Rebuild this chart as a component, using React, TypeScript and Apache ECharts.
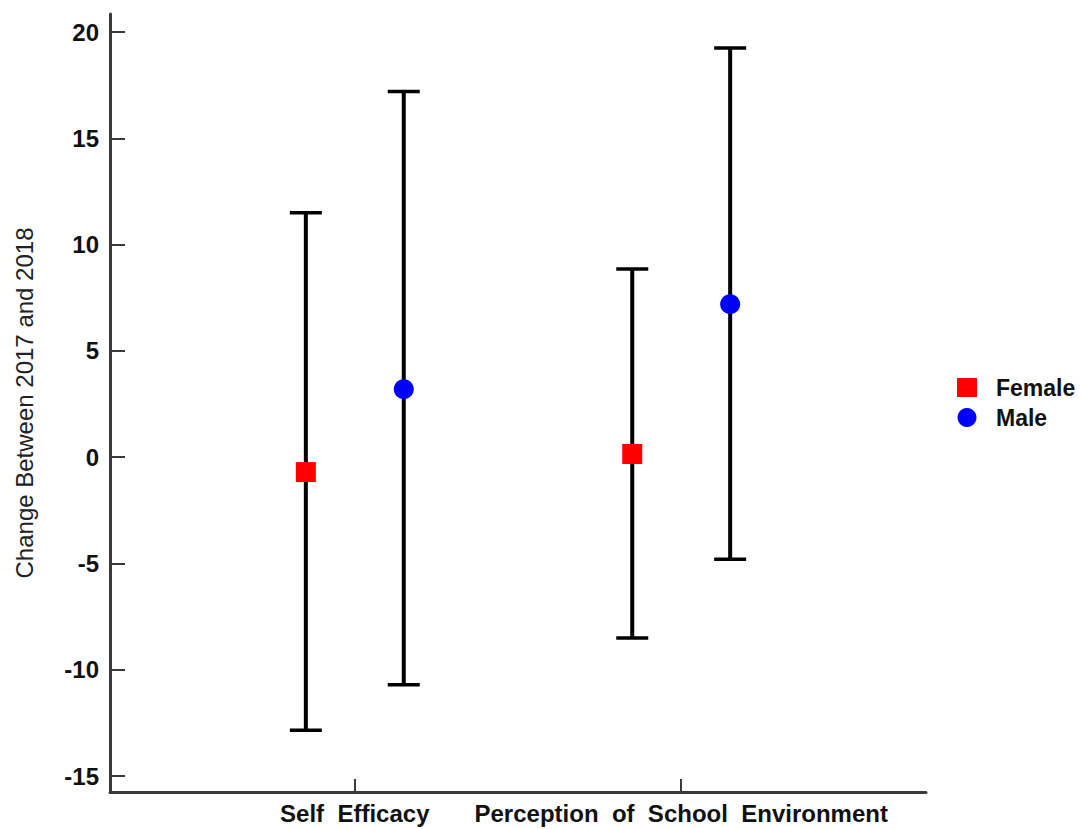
import React, { useEffect, useRef } from "react";
import * as echarts from "echarts";

// Groups on the x axis (placed at positions 1 and 2)
const categories = ["Self  Efficacy", "Perception  of  School  Environment"];
const seriesNames = ["Female", "Male"];

// Mean change and interval bounds per group
const femaleMean = [-0.7, 0.15];
const femaleLow = [-12.85, -8.5];
const femaleHigh = [11.5, 8.85];

const maleMean = [3.2, 7.2];
const maleLow = [-10.7, -4.8];
const maleHigh = [17.2, 19.25];

const yTicks = [-15, -10, -5, 0, 5, 10, 15, 20];

const OFFSET = 0.15;
const FONT = "'Liberation Sans', Arial, sans-serif";

export default function App() {
  const ref = useRef<HTMLDivElement>(null);

  useEffect(() => {
    if (!ref.current) return;
    const chart = echarts.init(ref.current, undefined, { renderer: "svg" });

    const catPos = categories.map((_, i) => i + 1);
    const femaleX = catPos.map((p) => p - OFFSET);
    const maleX = catPos.map((p) => p + OFFSET);

    const barData = [
      ...femaleX.map((x, i) => [x, femaleLow[i], femaleHigh[i]]),
      ...maleX.map((x, i) => [x, maleLow[i], maleHigh[i]]),
    ];

    const axisColor = "#3a3a3a";

    chart.setOption({
      animation: false,
      backgroundColor: "#ffffff",
      grid: { left: 110, top: 14, right: 156, bottom: 37, containLabel: false },
      legend: {
        orient: "vertical",
        left: 952,
        top: 371,
        itemWidth: 20,
        itemHeight: 19,
        itemGap: 7,
        data: seriesNames,
        textStyle: {
          fontFamily: FONT,
          fontWeight: "bold",
          fontSize: 23,
          color: "#111",
          padding: [0, 0, 0, 14],
        },
      },
      xAxis: {
        type: "value",
        min: 0.25,
        max: 2.75,
        splitLine: { show: false },
        axisLine: { onZero: false, lineStyle: { color: axisColor, width: 3 } },
        axisTick: {
          customValues: catPos,
          inside: true,
          length: 13,
          lineStyle: { color: axisColor, width: 2 },
        },
        axisLabel: {
          customValues: catPos,
          formatter: (v: number) => categories[Math.round(v) - 1] ?? "",
          fontFamily: FONT,
          fontWeight: "bold",
          fontSize: 24,
          color: "#111",
          margin: 9,
        },
      },
      yAxis: {
        type: "value",
        min: -15.75,
        max: 20.85,
        name: "Change Between 2017 and 2018",
        nameLocation: "middle",
        nameGap: 74,
        nameTextStyle: { fontFamily: FONT, fontSize: 24, color: "#222" },
        splitLine: { show: false },
        axisLine: { show: true, onZero: false, lineStyle: { color: axisColor, width: 3 } },
        axisTick: {
          show: true,
          customValues: yTicks,
          inside: true,
          length: 15,
          lineStyle: { color: axisColor, width: 2 },
        },
        axisLabel: {
          customValues: yTicks,
          fontFamily: FONT,
          fontWeight: "bold",
          fontSize: 24,
          color: "#111",
          margin: 11,
        },
      },
      series: [
        {
          type: "custom",
          name: "interval",
          data: barData,
          z: 1,
          encode: { x: 0, y: [1, 2] },
          renderItem: (_params: any, api: any) => {
            const x = api.value(0);
            const top = api.coord([x, api.value(2)]);
            const bot = api.coord([x, api.value(1)]);
            const hw = 16;
            const style = { stroke: "#000", lineWidth: 3.5 };
            return {
              type: "group",
              children: [
                { type: "line", shape: { x1: top[0], y1: top[1], x2: bot[0], y2: bot[1] }, style: { stroke: "#000", lineWidth: 4 } },
                { type: "line", shape: { x1: top[0] - hw, y1: top[1], x2: top[0] + hw, y2: top[1] }, style },
                { type: "line", shape: { x1: bot[0] - hw, y1: bot[1], x2: bot[0] + hw, y2: bot[1] }, style },
              ],
            };
          },
        },
        {
          type: "scatter",
          name: "Female",
          z: 3,
          symbol: "rect",
          symbolSize: 20,
          itemStyle: { color: "#ff0000", opacity: 1 },
          data: femaleX.map((x, i) => [x, femaleMean[i]]),
        },
        {
          type: "scatter",
          name: "Male",
          z: 3,
          symbol: "circle",
          symbolSize: 20,
          itemStyle: { color: "#0000ff", opacity: 1 },
          data: maleX.map((x, i) => [x, maleMean[i]]),
        },
      ],
    });

    return () => chart.dispose();
  }, []);

  return (
    <div
      ref={ref}
      style={{ position: "fixed", left: 0, top: 0, width: 1082, height: 829, background: "#fff" }}
    />
  );
}
